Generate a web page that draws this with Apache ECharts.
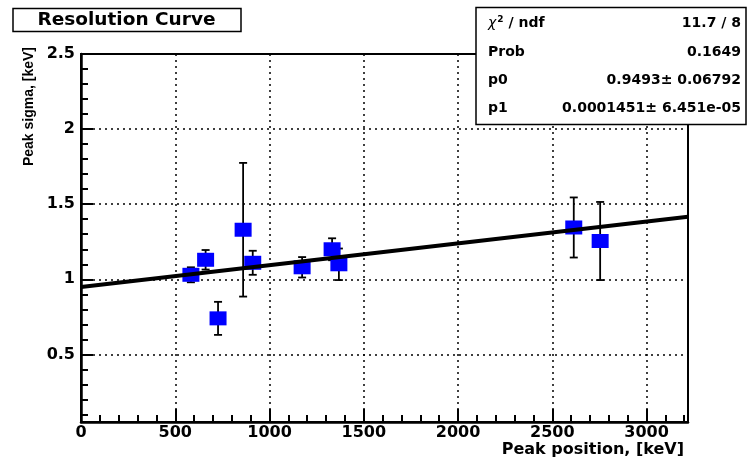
<!DOCTYPE html>
<html>
<head>
<meta charset="utf-8">
<script src="https://cdn.jsdelivr.net/npm/echarts@6/dist/echarts.min.js"></script>
<style>
  html, body { margin: 0; padding: 0; background: #fff; }
  #resolution-chart { width: 747px; height: 461px; }
</style>
</head>
<body>
<div id="resolution-chart"></div>
<script>
// peak positions [keV], fitted sigmas [keV] and their errors
const peakPositions = [583, 661, 727, 860, 911, 1173, 1332, 1368, 2614, 2754];
const peakSigmas = [1.03, 1.13, 0.74, 1.33, 1.11, 1.08, 1.20, 1.10, 1.345, 1.255];
const sigmaErrors = [0.05, 0.065, 0.11, 0.445, 0.08, 0.068, 0.073, 0.105, 0.2, 0.26];

// pol1 fit, end points as drawn
const fitX = [0, 3220];
const fitY = [0.949, 1.416];

const xMajorTicks = [0, 500, 1000, 1500, 2000, 2500, 3000];
const xMinorTicks = [100, 200, 300, 400, 600, 700, 800, 900, 1100, 1200, 1300, 1400,
  1600, 1700, 1800, 1900, 2100, 2200, 2300, 2400, 2600, 2700, 2800, 2900, 3100, 3200];
const yMajorTicks = [0.5, 1, 1.5, 2, 2.5];
const yMinorTicks = [0.1, 0.2, 0.3, 0.4, 0.6, 0.7, 0.8, 0.9, 1.1, 1.2, 1.3, 1.4,
  1.6, 1.7, 1.8, 1.9, 2.1, 2.2, 2.3, 2.4];

const statLabels = ['χ²', 'Prob', 'p0', 'p1'];
const statValues = ['11.7 / 8', '0.1649', '0.9493± 0.06792', '0.0001451± 6.451e-05'];

const chart = echarts.init(document.getElementById('resolution-chart'));

const font = 'DejaVu Sans';
const pointData = peakPositions.map((x, i) => [x, peakSigmas[i]]);
const errorData = peakPositions.map((x, i) => [x, peakSigmas[i] - sigmaErrors[i], peakSigmas[i] + sigmaErrors[i]]);

function renderErrorBar(params, api) {
  const lo = api.coord([api.value(0), api.value(1)]);
  const hi = api.coord([api.value(0), api.value(2)]);
  const cap = 4;
  const style = { stroke: '#000', lineWidth: 1.8 };
  return {
    type: 'group',
    children: [
      { type: 'line', shape: { x1: lo[0], y1: lo[1], x2: hi[0], y2: hi[1] }, style: style },
      { type: 'line', shape: { x1: lo[0] - cap, y1: lo[1], x2: lo[0] + cap, y2: lo[1] }, style: style },
      { type: 'line', shape: { x1: hi[0] - cap, y1: hi[1], x2: hi[0] + cap, y2: hi[1] }, style: style }
    ]
  };
}

const statRows = [23, 52, 80, 108];
const statTexts = [];
statLabels.forEach((label, i) => {
  statTexts.push({
    type: 'text', x: 488, y: statRows[i], z: 101,
    style: i === 0
      ? { text: '{chi|χ}{sup|2} / ndf', rich: {
            chi: { fontFamily: font, fontSize: 14, fill: '#000', fontStyle: 'italic' },
            sup: { fontFamily: font, fontSize: 9, fill: '#000', fontWeight: 'bold', verticalAlign: 'top', padding: [0, 0, 6, 1] }
          }, font: 'bold 14px ' + font, fill: '#000', verticalAlign: 'middle' }
      : { text: label, font: 'bold 14px ' + font, fill: '#000', verticalAlign: 'middle' }
  });
  statTexts.push({
    type: 'text', x: 741, y: statRows[i], z: 101,
    style: { text: statValues[i], font: 'bold 14px ' + font, fill: '#000', align: 'right', verticalAlign: 'middle' }
  });
});

const plainNumber = v => String(v);

const option = {
  animation: false,
  backgroundColor: '#fff',
  grid: {
    left: 81,
    right: 59,
    top: 54,
    bottom: 39,
    show: true,
    borderColor: '#000',
    borderWidth: 2,
    backgroundColor: 'transparent'
  },
  xAxis: [{
    type: 'value',
    min: 0,
    max: 3220,
    position: 'bottom',
    axisLine: { show: true, onZero: false, lineStyle: { color: '#000', width: 2.5 } },
    axisTick: { show: true, inside: true, length: 13, customValues: xMajorTicks, lineStyle: { color: '#000', width: 2 } },
    axisLabel: { customValues: xMajorTicks, formatter: plainNumber, color: '#000', fontFamily: font, fontWeight: 'bold', fontSize: 16, margin: 3 },
    splitLine: { show: true, lineStyle: { color: '#000', width: 1.5, type: [2, 4] } }
  }, {
    type: 'value',
    min: 0,
    max: 3220,
    position: 'bottom',
    axisLine: { show: false },
    axisTick: { show: true, inside: true, length: 7, customValues: xMinorTicks, lineStyle: { color: '#000', width: 2 } },
    axisLabel: { show: false },
    splitLine: { show: false }
  }],
  yAxis: [{
    type: 'value',
    min: 0.05,
    max: 2.5,
    position: 'left',
    axisLine: { show: true, onZero: false, lineStyle: { color: '#000', width: 2.5 } },
    axisTick: { show: true, inside: true, length: 12, customValues: yMajorTicks, lineStyle: { color: '#000', width: 2 } },
    axisLabel: { customValues: yMajorTicks, formatter: plainNumber, color: '#000', fontFamily: font, fontWeight: 'bold', fontSize: 16, margin: 6 },
    splitLine: { show: true, lineStyle: { color: '#000', width: 1.5, type: [2, 4] } }
  }, {
    type: 'value',
    min: 0.05,
    max: 2.5,
    position: 'left',
    axisLine: { show: false },
    axisTick: { show: true, inside: true, length: 7, customValues: yMinorTicks, lineStyle: { color: '#000', width: 2 } },
    axisLabel: { show: false },
    splitLine: { show: false }
  }],
  series: [{
    name: 'errors',
    type: 'custom',
    renderItem: renderErrorBar,
    data: errorData,
    encode: { x: 0, y: [1, 2] },
    z: 2
  }, {
    name: 'sigma',
    type: 'scatter',
    data: pointData,
    symbol: 'rect',
    symbolSize: [17, 14],
    itemStyle: { color: '#0000ff', opacity: 1 },
    z: 3
  }, {
    name: 'fit',
    type: 'line',
    data: fitX.map((x, i) => [x, fitY[i]]),
    showSymbol: false,
    lineStyle: { color: '#000', width: 4 },
    z: 4
  }],
  graphic: [{
    type: 'rect',
    z: 100,
    shape: { x: 13, y: 8.5, width: 228, height: 23 },
    style: { fill: '#fff', stroke: '#000', lineWidth: 1.5 }
  }, {
    type: 'text',
    z: 101,
    x: 126.5,
    y: 20,
    style: { text: 'Resolution Curve', font: 'bold 18.5px ' + font, fill: '#000', align: 'center', verticalAlign: 'middle' }
  }, {
    type: 'rect',
    z: 100,
    shape: { x: 476, y: 7.5, width: 270, height: 117 },
    style: { fill: '#fff', stroke: '#000', lineWidth: 1.5 }
  }].concat(statTexts).concat([{
    type: 'text',
    z: 101,
    x: 684,
    y: 450,
    style: { text: 'Peak position, [keV]', font: 'bold 16px ' + font, fill: '#000', align: 'right', verticalAlign: 'middle' }
  }, {
    type: 'text',
    z: 101,
    x: 29,
    y: 47,
    rotation: Math.PI / 2,
    style: { text: 'Peak sigma, [keV]', font: 'bold 14px "Liberation Sans"', fill: '#000', align: 'right', verticalAlign: 'middle' }
  }])
};

chart.setOption(option);
</script>
</body>
</html>
